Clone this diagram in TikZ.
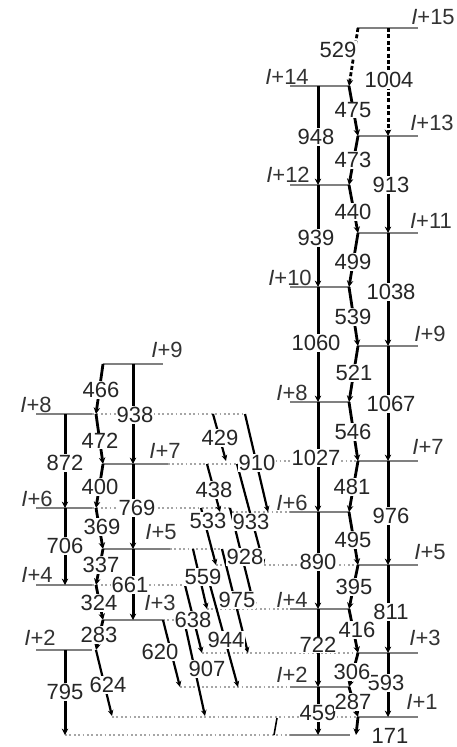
\documentclass[tikz,border=0pt]{standalone}
\usepackage{fontspec}
\setmainfont{Liberation Sans}
\usetikzlibrary{arrows.meta}
\newcommand\mklev[6]{%
  \coordinate (#1w) at (#2,#6);
  \coordinate (#1e) at (#3,#6);
  \coordinate (#1c) at (#4,#6);
  \coordinate (#1m) at (#5,#6);
  \draw[lvl] (#1w) -- (#1e);}
\begin{document}
\begin{tikzpicture}[x=0.5pt,y=-0.5pt,
  lvl/.style={draw=black!50,line width=1pt},
  ext/.style={draw=black!35,line width=0.9pt,dash pattern=on 0.9pt off 1.3pt},
  e2/.style={draw=black,line width=1.5pt,-{Stealth[length=3.2pt,width=3.2pt]}},
  m1/.style={draw=black,line width=1.4pt,-{Stealth[length=3.2pt,width=3.2pt]}},
  tr/.style={draw=black,line width=1.1pt,-{Stealth[length=3pt,width=2.8pt]}},
  dsh/.style={dash pattern=on 2pt off 1.2pt},
  lbl/.style={fill=white,inner sep=0.4pt,font=\fontsize{11}{12}\selectfont,text=black!85},
  lev/.style={inner sep=0pt,font=\fontsize{11}{12}\selectfont,text=black!80},
]
\useasboundingbox (0,0) rectangle (456,747);

% ---------- dotted level extensions ----------
\coordinate (x8a) at (92,414);  \coordinate (x8b) at (245,414);
\coordinate (x7a) at (168,464); \coordinate (x7b) at (240,464);
\coordinate (y7a) at (240,461); \coordinate (y7b) at (357,461);
\coordinate (x6a) at (92,508);  \coordinate (x6b) at (232,508);
\coordinate (y6a) at (232,512); \coordinate (y6b) at (290,512);
\coordinate (x5a) at (170,549); \coordinate (x5b) at (222,549);
\coordinate (y5a) at (216,565); \coordinate (y5b) at (357,565);
\coordinate (x4a) at (92,585);  \coordinate (x4b) at (210,585);
\coordinate (y4a) at (207,609); \coordinate (y4b) at (290,609);
\coordinate (x3a) at (163,620); \coordinate (x3b) at (184,620);
\coordinate (y3a) at (202,653); \coordinate (y3b) at (357,653);
\coordinate (y2a) at (180,687); \coordinate (y2b) at (290,687);
\coordinate (y1a) at (112,717); \coordinate (y1b) at (357,717);
\coordinate (y0a) at (65,735);  \coordinate (y0b) at (290,735);
\foreach \a/\b in {x8a/x8b,x7a/x7b,y7a/y7b,x6a/x6b,y6a/y6b,x5a/x5b,y5a/y5b,
  x4a/x4b,y4a/y4b,x3a/x3b,y3a/y3b,y2a/y2b,y1a/y1b,y0a/y0b}
  \draw[ext] (\a) -- (\b);

% ---------- levels, band A ----------
\mklev{A0}{290}{350}{318}{349}{735}
\mklev{A2}{290}{350}{318}{349}{687}
\mklev{A4}{290}{350}{318}{349}{609}
\mklev{A6}{290}{350}{318}{349}{512}
\mklev{A8}{290}{350}{318}{349}{402}
\mklev{A10}{290}{350}{318}{349}{287}
\mklev{A12}{290}{350}{318}{349}{185}
\mklev{A14}{290}{350}{318}{349}{86}
\mklev{A1}{357}{418}{388}{358}{717}
\mklev{A3}{357}{418}{388}{358}{653}
\mklev{A5}{357}{418}{388}{358}{565}
\mklev{A7}{357}{418}{388}{358}{461}
\mklev{A9}{357}{418}{388}{358}{346}
\mklev{A11}{357}{418}{388}{358}{233}
\mklev{A13}{357}{418}{388}{358}{136}
\mklev{A15}{357}{418}{388}{358}{28}
% ---------- levels, band B ----------
\mklev{B2}{36}{92}{65}{96}{650}
\mklev{B4}{36}{92}{65}{96}{585}
\mklev{B6}{36}{92}{65}{96}{508}
\mklev{B8}{36}{92}{65}{96}{414}
\mklev{B3}{103}{163}{133}{103}{620}
\mklev{B5}{103}{170}{133}{103}{549}
\mklev{B7}{103}{168}{133}{103}{464}
\mklev{B9}{103}{163}{133}{103}{364}
\coordinate (B2d) at (65,735);
\coordinate (A0x) at (356,735);
\coordinate (tka) at (277,718); \coordinate (tkb) at (274,735);
\draw[black,line width=0.8pt] (tka) -- (tkb);

% ---------- E2 columns ----------
\draw[e2,dsh] (A15c) -- (A13c);
\foreach \a/\b in {A13/A11,A11/A9,A9/A7,A7/A5,A5/A3,A3/A1,
  A14/A12,A12/A10,A10/A8,A8/A6,A6/A4,A4/A2,A2/A0,
  B9/B7,B7/B5,B5/B3,B8/B6,B6/B4}
  \draw[e2] (\a c) -- (\b c);
\draw[e2] (B2c) -- (B2d);

% ---------- M1 cascades ----------
\draw[m1,dsh] (A15m) -- (A14m);
\foreach \a/\b in {A14/A13,A13/A12,A12/A11,A11/A10,A10/A9,A9/A8,A8/A7,
  A7/A6,A6/A5,A5/A4,A4/A3,A3/A2,A2/A1,
  B9/B8,B8/B7,B7/B6,B6/B5,B5/B4,B4/B3,B3/B2}
  \draw[m1] (\a m) -- (\b m);
\draw[m1] (A1m) -- (A0x);

% ---------- interband transitions ----------
\coordinate (t429s) at (213,414); \coordinate (t429e) at (226,461);
\coordinate (t910s) at (245,414); \coordinate (t910e) at (268,512);
\coordinate (t438s) at (207,464); \coordinate (t438e) at (220,512);
\coordinate (t933s) at (237,464); \coordinate (t933e) at (264,565);
\coordinate (t533s) at (201,508); \coordinate (t533e) at (216,565);
\coordinate (t928s) at (230,508); \coordinate (t928e) at (255,609);
\coordinate (t559s) at (193,549); \coordinate (t559e) at (207,609);
\coordinate (t975s) at (222,549); \coordinate (t975e) at (248,653);
\coordinate (t638s) at (185,585); \coordinate (t638e) at (202,653);
\coordinate (t944s) at (210,585); \coordinate (t944e) at (238,687);
\coordinate (t620s) at (163,620); \coordinate (t620e) at (180,687);
\coordinate (t907s) at (184,620); \coordinate (t907e) at (205,716);
\coordinate (t624s) at (96,650);  \coordinate (t624e) at (112,716);
\foreach \t in {429,910,438,933,533,928,559,975,638,944,620,907,624}
  \draw[tr] (t\t s) -- (t\t e);

% ---------- transition labels ----------
\foreach \p/\t in {{316,137}/948,{316,238}/939,{316,343}/1060,{316,458}/1027,
  {318,562}/890,{318,645}/722,{318,713}/459,
  {389,80}/1004,{391,185}/913,{391,292}/1038,{391,404}/1067,{391,516}/976,
  {391,612}/811,{386,683}/593,
  {338,50}/529,{353,110}/475,{353,160}/473,{353,212}/440,{353,262}/499,
  {353,317}/539,{354,373}/521,{353,432}/546,{352,487}/481,{353,540}/495,
  {354,587}/395,{357,630}/416,{352,672}/306,{353,702}/287,{390,736}/171,
  {101,390}/466,{100,441}/472,{100,487}/400,{102,527}/369,{101,565}/337,
  {99,603}/324,{99,635}/283,
  {65,463}/872,{65,546}/706,{65,692}/795,{135,415}/938,{137,508}/769,{130,585}/661,
  {220,438}/429,{257,463}/910,{214,490}/438,{251,522}/933,{208,521}/533,
  {245,557}/928,{203,577}/559,{237,600}/975,{193,620}/638,{226,640}/944,
  {160,652}/620,{207,669}/907,{108,685}/624}
  \node[lbl] (n\t) at (\p) {\t};

% ---------- level labels ----------
\foreach \p/\n in {{433,17}/15,{287,77}/14,{432,123}/13,{288,175}/12,{431,221}/11,
  {290,278}/10,{430,334}/9,{292,393}/8,{428,447}/7,{292,503}/6,{430,552}/5,
  {292,600}/4,{425,638}/3,{292,675}/2,{422,702}/1}
  \node[lev] (la\n) at (\p) {\textit{I}+\n};
\foreach \p/\n in {{167,350}/9,{36,405}/8,{165,451}/7,{37,499}/6,{161,532}/5,
  {37,575}/4,{160,603}/3,{40,638}/2}
  \node[lev] (lb\n) at (\p) {\textit{I}+\n};
\end{tikzpicture}
\end{document}
